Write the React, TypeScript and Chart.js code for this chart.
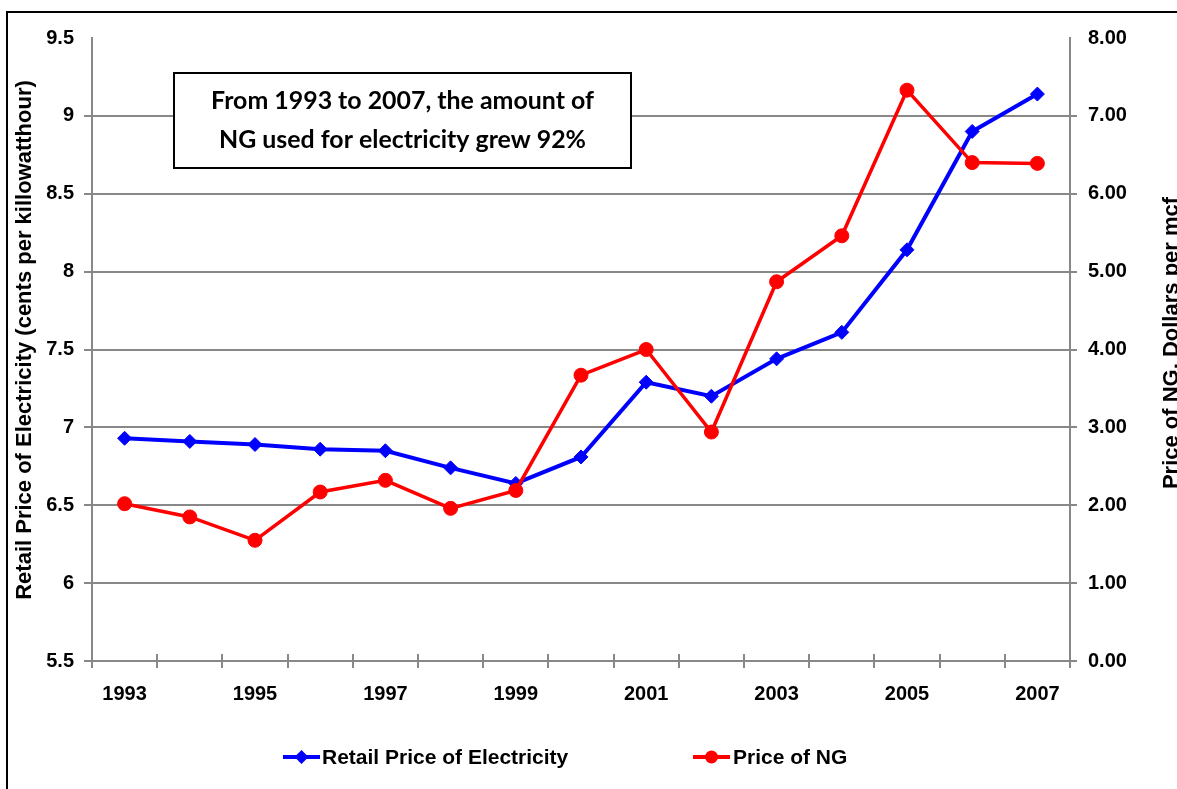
import React, { useEffect, useRef } from "react";
import { Chart, registerables } from "chart.js";

Chart.register(...registerables);

// ---------- data ----------
const years = [
  "1993", "1994", "1995", "1996", "1997", "1998", "1999", "2000",
  "2001", "2002", "2003", "2004", "2005", "2006", "2007",
];
const electricityPrice = [
  6.93, 6.91, 6.89, 6.86, 6.85, 6.74, 6.64, 6.81, 7.29, 7.2, 7.44, 7.61, 8.14, 8.9, 9.14,
];
const ngPrice = [
  2.02, 1.85, 1.55, 2.17, 2.32, 1.96, 2.19, 3.67, 4.0, 2.94, 4.87, 5.46, 7.33, 6.4, 6.39,
];
const seriesLabels = ["Retail Price of Electricity", "Price of NG"];
const leftAxisTitle = "Retail Price of Electricity (cents per killowatthour)";
const rightAxisTitle = "Price of NG, Dollars per mcf";
const annotationLines = [
  "From 1993 to 2007, the amount of",
  "NG used for electricity grew 92%",
];
const leftAxisRange = [5.5, 9.5];
const rightAxisRange = [0, 8];

// ---------- styles ----------
const FONT = '"Liberation Sans", Arial, sans-serif';
const GRID = "#888888";
const BLUE = "#0000FF";
const RED = "#FF0000";

function diamond(ctx: CanvasRenderingContext2D, x: number, y: number, r: number) {
  ctx.beginPath();
  ctx.moveTo(x, y - r);
  ctx.lineTo(x + r, y);
  ctx.lineTo(x, y + r);
  ctx.lineTo(x - r, y);
  ctx.closePath();
  ctx.fill();
}

const decorPlugin = {
  id: "decor",
  afterDraw(chart: any) {
    const ctx: CanvasRenderingContext2D = chart.ctx;
    const area = chart.chartArea;
    const xs = chart.scales.x;
    ctx.save();

    // upper half of the crossing x tick marks
    const step = xs.getPixelForValue(1) - xs.getPixelForValue(0);
    ctx.strokeStyle = GRID;
    ctx.lineWidth = 2;
    for (let i = 0; i <= years.length; i++) {
      const px = Math.round(xs.getPixelForValue(0) - step / 2 + i * step);
      ctx.beginPath();
      ctx.moveTo(px, area.bottom - 7);
      ctx.lineTo(px, area.bottom);
      ctx.stroke();
    }

    // annotation box
    const bx = 174, by = 73, bw = 457, bh = 95;
    ctx.fillStyle = "#ffffff";
    ctx.fillRect(bx, by, bw, bh);
    ctx.strokeStyle = "#000000";
    ctx.lineWidth = 2;
    ctx.strokeRect(bx, by, bw, bh);
    ctx.font = `bold 24px Lato, "Open Sans", sans-serif`;
    const w0 = ctx.measureText(annotationLines[0]).width;
    const size = (24 * 383) / w0;
    ctx.font = `bold ${size.toFixed(2)}px Lato, "Open Sans", sans-serif`;
    ctx.fillStyle = "#000000";
    ctx.textAlign = "center";
    ctx.textBaseline = "middle";
    ctx.fillText(annotationLines[0], bx + bw / 2, 101);
    ctx.fillText(annotationLines[1], bx + bw / 2, 140);

    // axis titles (both read bottom-to-top)
    ctx.font = `bold 22px ${FONT}`;
    ctx.textBaseline = "alphabetic";
    ctx.textAlign = "center";
    ctx.save();
    ctx.translate(31, 340);
    ctx.rotate(-Math.PI / 2);
    ctx.fillText(leftAxisTitle, 0, 0);
    ctx.restore();
    ctx.save();
    ctx.translate(1178, 343);
    ctx.rotate(-Math.PI / 2);
    ctx.fillText(rightAxisTitle, 0, 0);
    ctx.restore();

    // legend
    const items = [
      { i: 0, x0: 283, x1: 320, tx: 322 },
      { i: 1, x0: 693, x1: 730, tx: 733 },
    ];
    const ly = 757;
    ctx.font = `bold 21px ${FONT}`;
    ctx.textAlign = "left";
    ctx.textBaseline = "middle";
    items.forEach((it) => {
      const ds = chart.data.datasets[it.i];
      const color = ds.borderColor as string;
      ctx.strokeStyle = color;
      ctx.fillStyle = color;
      ctx.lineWidth = 4;
      ctx.beginPath();
      ctx.moveTo(it.x0, ly);
      ctx.lineTo(it.x1, ly);
      ctx.stroke();
      const cx = (it.x0 + it.x1) / 2;
      if (ds.pointStyle === "rectRot") {
        diamond(ctx, cx, ly, 7);
      } else {
        ctx.beginPath();
        ctx.arc(cx, ly, 6.5, 0, Math.PI * 2);
        ctx.fill();
      }
      ctx.fillStyle = "#000000";
      ctx.fillText(ds.label, it.tx, ly + 1);
    });

    ctx.restore();
  },
};

export default function App() {
  const ref = useRef<HTMLCanvasElement | null>(null);

  useEffect(() => {
    const canvas = ref.current;
    if (!canvas) return;
    const tickFont = { family: FONT, size: 20, weight: "bold" as const };
    const chart = new Chart(canvas, {
      type: "line",
      data: {
        labels: years,
        datasets: [
          {
            label: seriesLabels[0],
            data: electricityPrice,
            yAxisID: "y",
            borderColor: BLUE,
            backgroundColor: BLUE,
            borderWidth: 4,
            pointStyle: "rectRot",
            pointRadius: 7,
            pointBorderWidth: 1,
            tension: 0,
            order: 2,
          },
          {
            label: seriesLabels[1],
            data: ngPrice,
            yAxisID: "y1",
            borderColor: RED,
            backgroundColor: RED,
            borderWidth: 3.5,
            pointStyle: "circle",
            pointRadius: 7,
            pointBorderWidth: 1,
            tension: 0,
            order: 1,
          },
        ],
      },
      options: {
        responsive: false,
        animation: false,
        devicePixelRatio: 1,
        layout: { padding: { top: 38, left: 0, right: 0, bottom: 0 } },
        plugins: {
          legend: { display: false },
          tooltip: { enabled: false },
          title: { display: false },
        },
        scales: {
          x: {
            type: "category",
            offset: true,
            grid: {
              offset: true,
              drawOnChartArea: false,
              drawTicks: true,
              tickLength: 7,
              color: GRID,
              lineWidth: 2,
            },
            border: { display: true, color: GRID, width: 2 },
            ticks: {
              autoSkip: false,
              maxRotation: 0,
              minRotation: 0,
              padding: 14,
              color: "#000000",
              font: tickFont,
              callback: (_v: any, i: number) => (i % 2 === 0 ? years[i] : ""),
            },
            afterFit: (s: any) => {
              s.height = 128;
            },
          },
          y: {
            position: "left",
            min: leftAxisRange[0],
            max: leftAxisRange[1],
            ticks: {
              stepSize: 0.5,
              padding: 10,
              color: "#000000",
              font: tickFont,
              callback: (v: any) => String(Number(v)),
            },
            grid: {
              color: (c: any) =>
                c.tick && c.tick.value === leftAxisRange[1] ? "rgba(0,0,0,0)" : GRID,
              lineWidth: 2,
              tickLength: 8,
            },
            border: { display: true, color: GRID, width: 2 },
            afterFit: (s: any) => {
              s.width = 92;
            },
          },
          y1: {
            position: "right",
            min: rightAxisRange[0],
            max: rightAxisRange[1],
            ticks: {
              stepSize: 1,
              padding: 11,
              color: "#000000",
              font: tickFont,
              callback: (v: any) => Number(v).toFixed(2),
            },
            grid: {
              drawOnChartArea: false,
              color: (c: any) =>
                c.tick && c.tick.value === rightAxisRange[1] ? "rgba(0,0,0,0)" : GRID,
              lineWidth: 2,
              tickLength: 7,
            },
            border: { display: true, color: GRID, width: 2 },
            afterFit: (s: any) => {
              s.width = 107;
            },
          },
        },
      },
      plugins: [decorPlugin],
    } as any);
    return () => chart.destroy();
  }, []);

  return (
    <div
      style={{
        position: "fixed",
        left: 0,
        top: 0,
        width: 1177,
        height: 789,
        overflow: "hidden",
        background: "#ffffff",
      }}
    >
      <div
        style={{
          position: "absolute",
          left: 6,
          top: 11,
          width: 1300,
          height: 900,
          border: "2px solid #000000",
          boxSizing: "border-box",
          pointerEvents: "none",
        }}
      />
      <canvas
        ref={ref}
        width={1177}
        height={789}
        style={{ position: "absolute", left: 0, top: 0, width: 1177, height: 789 }}
      />
    </div>
  );
}
